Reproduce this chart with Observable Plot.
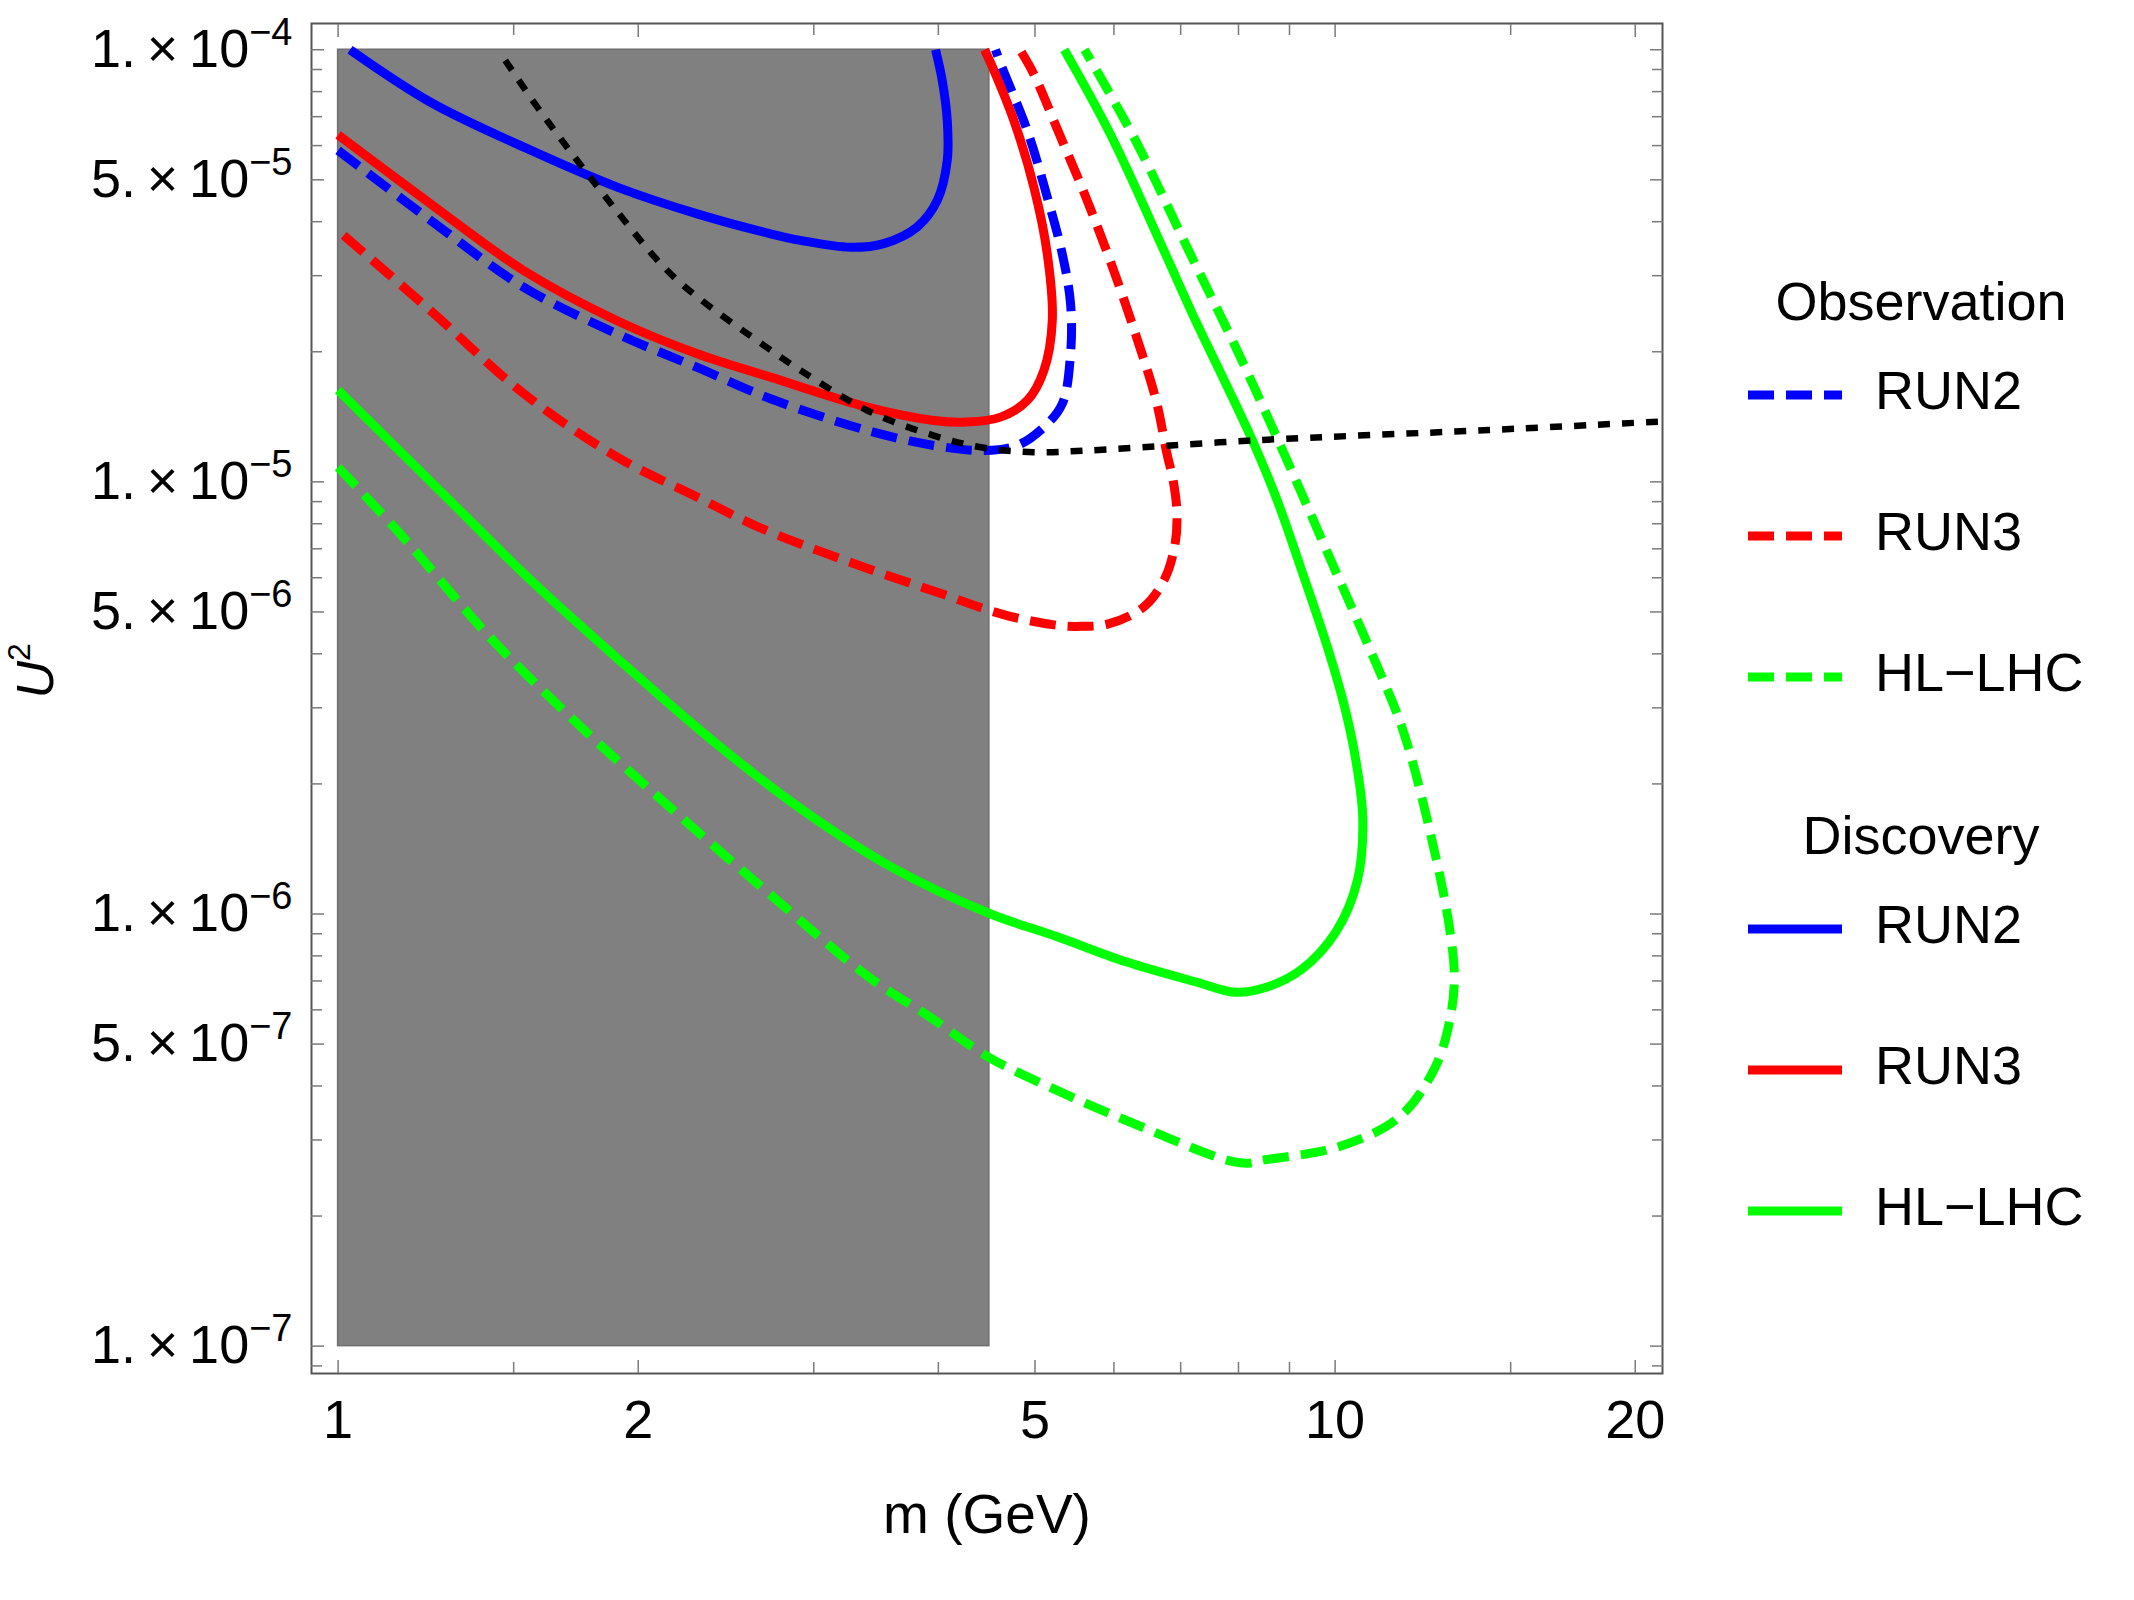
<!DOCTYPE html>
<html>
<head>
<meta charset="utf-8">
<script src="https://cdn.jsdelivr.net/npm/d3@7"></script>
<script src="https://cdn.jsdelivr.net/npm/@observablehq/plot@0.6"></script>
<style>
  html, body { margin: 0; padding: 0; background: #fff; overflow: hidden; }
  #chart { position: relative; width: 2134px; height: 1600px; }
</style>
</head>
<body>
<div id="chart"></div>
<script>
// ---- Sensitivity curves: [mass m (GeV), mixing U^2] ----
// Observation (dashed)
const obsRun2 = [
  [1.0, 5.85e-5], [1.238, 4.03e-5], [1.536, 2.82e-5], [1.905, 2.20e-5], [2.292, 1.84e-5],
  [2.715, 1.557e-5], [3.395, 1.315e-5], [3.958, 1.214e-5], [4.442, 1.182e-5], [4.799, 1.214e-5],
  [5.104, 1.339e-5], [5.325, 1.516e-5], [5.428, 1.979e-5], [5.428, 2.584e-5], [5.325, 3.37e-5],
  [5.144, 4.56e-5], [4.912, 6.50e-5], [4.618, 9.28e-5], [4.564, 1.0e-4]
];
const obsRun3 = [
  [1.013, 3.72e-5], [1.238, 2.49e-5], [1.536, 1.599e-5], [1.905, 1.141e-5], [2.292, 9.22e-6],
  [2.637, 7.87e-6], [3.241, 6.55e-6], [3.983, 5.56e-6], [4.650, 4.93e-6], [5.248, 4.66e-6],
  [5.507, 4.63e-6], [5.923, 4.69e-6], [6.425, 5.13e-6], [6.745, 5.96e-6], [6.912, 7.21e-6],
  [6.939, 8.49e-6], [6.884, 9.99e-6], [6.774, 1.176e-5], [6.614, 1.543e-5], [6.306, 2.20e-5],
  [5.948, 3.25e-5], [5.606, 4.64e-5], [5.288, 6.39e-5], [4.984, 8.80e-5], [4.83, 1.0e-4]
];
const obsHLLHC = [
  [1.0, 1.081e-5], [1.156, 7.55e-6], [1.421, 4.36e-6], [1.746, 2.73e-6], [2.145, 1.777e-6],
  [2.756, 1.075e-6], [3.407, 7.14e-7], [3.925, 5.77e-7], [4.495, 4.66e-7], [5.269, 3.90e-7],
  [6.288, 3.27e-7], [7.804, 2.69e-7], [8.19, 2.65e-7], [8.441, 2.69e-7], [10.07, 2.89e-7],
  [11.60, 3.39e-7], [12.60, 4.42e-7], [13.05, 5.77e-7], [13.17, 7.14e-7], [13.05, 9.00e-7],
  [12.64, 1.33e-6], [11.71, 2.64e-6], [10.85, 4.07e-6], [9.97, 6.35e-6], [8.95, 1.121e-5],
  [7.979, 2.01e-5], [7.13, 3.43e-5], [6.306, 6.17e-5], [5.607, 1.0e-4]
];
// Discovery (solid)
const discRun2 = [
  [1.028, 1.0e-4], [1.238, 7.56e-5], [1.536, 5.95e-5], [1.905, 4.81e-5], [2.292, 4.17e-5],
  [2.715, 3.75e-5], [2.910, 3.62e-5], [3.266, 3.49e-5], [3.526, 3.56e-5], [3.809, 3.89e-5],
  [3.990, 4.48e-5], [4.083, 5.54e-5], [4.083, 6.86e-5], [4.036, 8.49e-5], [3.974, 1.0e-4]
];
const discRun3 = [
  [1.0, 6.35e-5], [1.238, 4.40e-5], [1.536, 3.08e-5], [1.905, 2.36e-5], [2.292, 1.979e-5],
  [2.715, 1.747e-5], [3.395, 1.489e-5], [3.958, 1.387e-5], [4.276, 1.375e-5], [4.618, 1.412e-5],
  [4.912, 1.543e-5], [5.104, 1.811e-5], [5.204, 2.363e-5], [5.144, 3.37e-5], [4.987, 4.81e-5],
  [4.762, 6.86e-5], [4.547, 8.96e-5], [4.45, 1.0e-4]
];
const discHLLHC = [
  [1.0, 1.63e-5], [1.281, 9.27e-6], [1.575, 5.80e-6], [1.936, 3.78e-6], [2.378, 2.51e-6],
  [2.923, 1.74e-6], [3.593, 1.282e-6], [4.494, 1.004e-6], [5.248, 8.88e-7], [6.169, 7.75e-7],
  [7.255, 6.96e-7], [7.932, 6.59e-7], [8.531, 6.77e-7], [9.252, 7.44e-7], [10.03, 9.13e-7],
  [10.53, 1.198e-6], [10.66, 1.66e-6], [10.48, 2.30e-6], [10.22, 3.02e-6], [9.849, 4.07e-6],
  [9.233, 6.35e-6], [8.748, 9.06e-6], [8.29, 1.225e-5], [7.77, 1.687e-5], [7.217, 2.405e-5],
  [6.734, 3.43e-5], [5.948, 6.39e-5], [5.35, 1.0e-4]
];
// Existing bound (black dotted)
const existingBound = [
  [1.471, 9.45e-5], [1.584, 7.37e-5], [1.697, 5.95e-5], [1.890, 4.32e-5], [2.122, 3.14e-5],
  [2.292, 2.68e-5], [2.673, 2.07e-5], [2.910, 1.811e-5], [3.395, 1.463e-5], [3.958, 1.28e-5],
  [4.442, 1.199e-5], [4.987, 1.171e-5], [5.641, 1.182e-5], [8.326, 1.248e-5], [14.27, 1.318e-5],
  [21.3, 1.38e-5]
];
// Shaded excluded band
const excludedMass = [1, 4.5];
const excludedU2 = [1e-7, 1e-4];

// ---- Series, legend and axis definitions ----
const seriesNames = ["RUN2", "RUN3", "HL\u2212LHC"];
const seriesColors = ["#0000ff", "#ff0000", "#00ff00"];
const legendTitles = ["Observation", "Discovery"];
const observationCurves = [obsRun2, obsRun3, obsHLLHC];
const discoveryCurves = [discRun2, discRun3, discHLLHC];

const massDomain = [0.9404, 21.3];
const u2Domain = [8.643e-8, 1.15e-4];
const xMinorTicks = [1.5, 3, 4, 6, 7, 8, 9, 15];
const xMajorTicks = [1, 2, 5, 10, 20];
const yMajorTicks = [1e-7, 5e-7, 1e-6, 5e-6, 1e-5, 5e-5, 1e-4];
const yMinorTicks = [
  9e-8,
  2e-7, 3e-7, 4e-7, 6e-7, 7e-7, 8e-7, 9e-7,
  2e-6, 3e-6, 4e-6, 6e-6, 7e-6, 8e-6, 9e-6,
  2e-5, 3e-5, 4e-5, 6e-5, 7e-5, 8e-5, 9e-5
];

const FONT = "'Liberation Sans', Arial, Helvetica, sans-serif";
const DASH = "26,12";
const LINE_W = 9;

// "1. × 10^−4" style labels; the exponent is split into a superscript afterwards
const sciLabel = v => {
  const e = Math.floor(Math.log10(v) + 1e-9);
  const c = Math.round(v / 10 ** e);
  return `${c}.\u2009\u00d7\u200910^\u2212${-e}`;
};

const curveMark = (pts, color, dash) => Plot.line(pts, {
  x: d => d[0], y: d => d[1],
  stroke: color, strokeWidth: LINE_W,
  strokeDasharray: dash, strokeLinecap: "butt", strokeLinejoin: "round",
  curve: "catmull-rom", clip: true
});

const tickStyle = {stroke: "#7a7a7a", strokeWidth: 1.5, fill: "none", label: null};

const plot = Plot.plot({
  width: 2134,
  height: 1600,
  marginTop: 23,
  marginRight: 472,
  marginBottom: 227,
  marginLeft: 311,
  style: {fontFamily: FONT, fontSize: "54px", background: "#fff", color: "#000"},
  x: {type: "log", domain: massDomain, axis: null},
  y: {type: "log", domain: u2Domain, axis: null},
  marks: [
    Plot.rect([{m1: excludedMass[0], m2: excludedMass[1], u1: excludedU2[0], u2: excludedU2[1]}], {
      x1: "m1", x2: "m2", y1: "u1", y2: "u2", fill: "#808080", stroke: "#707070", strokeWidth: 1.5
    }),
    ...observationCurves.map((c, i) => curveMark(c, seriesColors[i], DASH)),
    ...discoveryCurves.map((c, i) => curveMark(c, seriesColors[i], null)),
    Plot.line(existingBound, {
      x: d => d[0], y: d => d[1], stroke: "#000", strokeWidth: 6.5,
      strokeDasharray: "12,12", strokeLinecap: "butt", curve: "catmull-rom", clip: true
    }),
    Plot.frame({stroke: "#555", strokeWidth: 2}),
    // inward frame ticks on all four sides
    Plot.axisX({anchor: "bottom", ticks: xMajorTicks, tickSize: -13, ...tickStyle}),
    Plot.axisX({anchor: "bottom", ticks: xMinorTicks, tickSize: -11, ...tickStyle}),
    Plot.axisX({anchor: "top", ticks: xMajorTicks, tickSize: -13, ...tickStyle}),
    Plot.axisX({anchor: "top", ticks: xMinorTicks, tickSize: -11, ...tickStyle}),
    Plot.axisY({anchor: "left", ticks: yMajorTicks, tickSize: -13, ...tickStyle}),
    Plot.axisY({anchor: "left", ticks: yMinorTicks, tickSize: -11, ...tickStyle}),
    Plot.axisY({anchor: "right", ticks: yMajorTicks, tickSize: -13, ...tickStyle}),
    Plot.axisY({anchor: "right", ticks: yMinorTicks, tickSize: -11, ...tickStyle}),
    // tick labels
    Plot.text(xMajorTicks, {x: d => d, frameAnchor: "bottom", dy: 26, text: d => `${d}`,
      lineAnchor: "top", fontSize: 54}),
    Plot.text(yMajorTicks, {y: d => d, frameAnchor: "left", dx: -19, text: sciLabel,
      textAnchor: "end", lineAnchor: "middle", fontSize: 54}),
    // axis titles
    Plot.text(["m (GeV)"], {frameAnchor: "bottom", dy: 142, text: d => d, fontSize: 55, lineAnchor: "middle"}),
    Plot.text(["U^2"], {frameAnchor: "left", dx: -275, rotate: -90, text: d => d,
      fontSize: 52, lineAnchor: "middle"})
  ]
});

document.getElementById("chart").appendChild(plot);
const svg = d3.select(plot.tagName.toLowerCase() === "svg" ? plot : plot.querySelector("svg"));

// turn "base^exp" texts into a base with a raised, smaller exponent
svg.selectAll("text").each(function () {
  const parts = this.textContent.split("^");
  if (parts.length !== 2) return;
  const t = d3.select(this);
  const isTitle = parts[0] === "U";
  t.text(null);
  const base = t.append("tspan").text(parts[0]);
  if (isTitle) {
    base.attr("font-style", "italic");
    t.append("tspan").attr("dy", -23).attr("font-size", 32).text(parts[1]);
  } else {
    t.append("tspan").attr("dy", -22).attr("font-size", 38).text(parts[1]);
  }
});

// legend at the right of the frame
const legend = svg.append("g")
  .attr("font-family", FONT)
  .attr("font-size", 54)
  .attr("fill", "#000");
const legendGroupY = [395, 929];
const legendStep = 141;
legendTitles.forEach((title, g) => {
  const y0 = legendGroupY[g];
  legend.append("text")
    .attr("x", 1921).attr("y", y0 - 75)
    .attr("text-anchor", "middle")
    .text(title);
  seriesNames.forEach((name, i) => {
    const y = y0 + i * legendStep;
    legend.append("line")
      .attr("x1", 1748).attr("x2", 1842)
      .attr("y1", y).attr("y2", y)
      .attr("stroke", seriesColors[i])
      .attr("stroke-width", LINE_W)
      .attr("stroke-dasharray", g === 0 ? DASH : null);
    legend.append("text")
      .attr("x", 1875).attr("y", y + 14)
      .attr("text-anchor", "start")
      .text(name);
  });
});
</script>
</body>
</html>
